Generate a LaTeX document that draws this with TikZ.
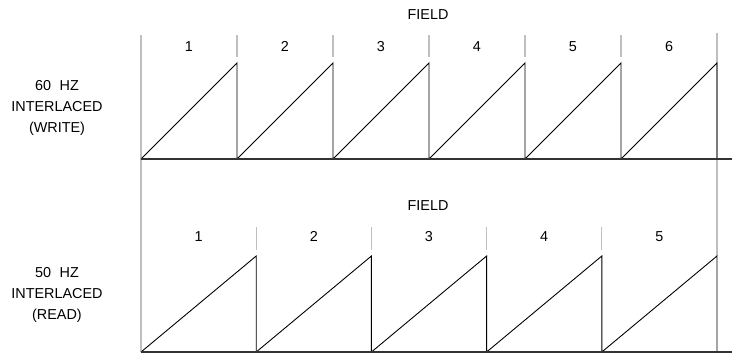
\documentclass[tikz,border=0pt]{standalone}
\usepackage{fontspec}
\setmainfont{Liberation Sans}
\usetikzlibrary{positioning}
\tikzset{
    fieldtick/.style={
        draw=black!25,
        line width=1.2pt
    },
    sawtooth/.style={
        draw=black,
        line width=0.9pt,
        line join=miter
    },
    timeline/.style={
        draw=black!80,
        line width=1.6pt
    },
    caption/.style={
        font=\fontsize{14.4}{21}\selectfont,
        align=center,
        inner sep=0pt
    },
    fieldno/.style={
        caption,
        anchor=base
    }
}

\begin{document}
\begin{tikzpicture}[x=1pt, y=-1pt]
\useasboundingbox (0,0) rectangle (732,354);

% outer field marks
\draw [fieldtick] (141,35) -- (141,352);
\draw [fieldtick] (717,33) -- (717,256);

% 60 Hz write
\node (fieldw) [caption] at (428,15) {FIELD};
\node (write) [caption] at (57,108) {60\hspace{0.6em}HZ\\INTERLACED\\(WRITE)};
\foreach \i in {1,...,5}
    \draw [fieldtick] (141+96*\i,35) -- (141+96*\i,57);
\foreach \i in {1,...,6}
    \node (w\i) [fieldno] at (93+96*\i,51) {\i};
\draw [sawtooth] (141,159) foreach \i in {1,...,6} {-- (141+96*\i,63) -- (141+96*\i,159)};
\draw [timeline] (141,159) -- (732,159);

% 50 Hz read
\node (fieldr) [caption] at (428,206) {FIELD};
\node (read) [caption] at (57,295) {50\hspace{0.6em}HZ\\INTERLACED\\(READ)};
\foreach \i in {1,...,4}
    \draw [fieldtick] (141+115.2*\i,227) -- (141+115.2*\i,250);
\foreach \i in {1,...,5}
    \node (r\i) [fieldno] at (83.4+115.2*\i,241) {\i};
\draw [sawtooth] (141,352) foreach \i in {1,...,5} {-- (141+115.2*\i,256) -- (141+115.2*\i,352)};
\draw [timeline] (141,352) -- (732,352);

\end{tikzpicture}
\end{document}
